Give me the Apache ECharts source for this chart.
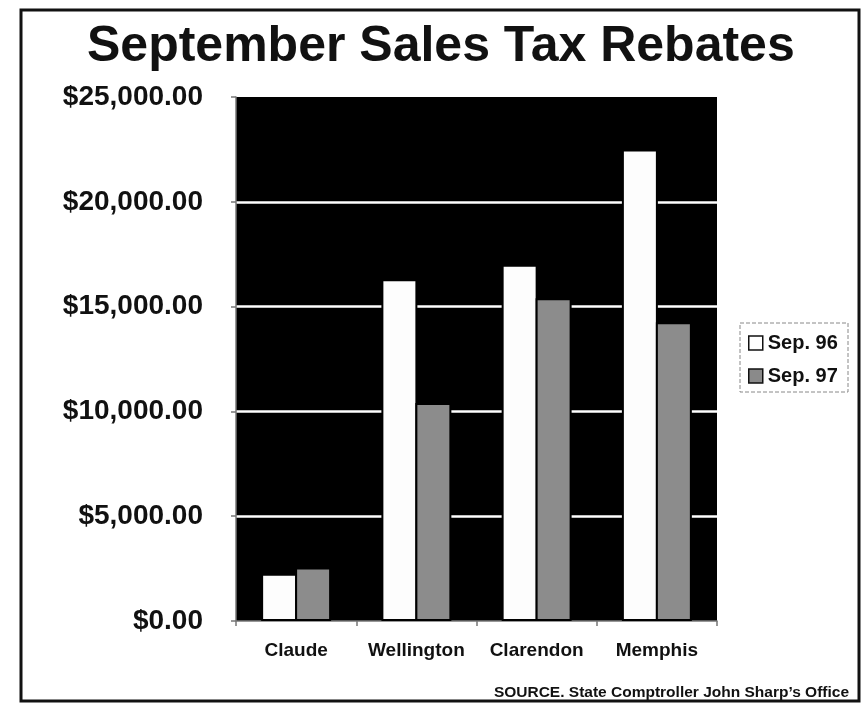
<!DOCTYPE html>
<html>
<head>
<meta charset="utf-8">
<script src="https://cdn.jsdelivr.net/npm/echarts@6/dist/echarts.min.js"></script>
<style>
html,body{margin:0;padding:0;background:#fff;}
#main{width:861px;height:704px;}
</style>
</head>
<body>
<div id="main"></div>
<script>
var categories = ['Claude', 'Wellington', 'Clarendon', 'Memphis'];
var sep96 = [2250, 16300, 17000, 22500];
var sep97 = [2550, 10400, 15400, 14250];
var seriesNames = ['Sep. 96', 'Sep. 97'];
var titleText = 'September Sales Tax Rebates';
var sourceText = 'SOURCE. State Comptroller John Sharp\u2019s Office';

var chart = echarts.init(document.getElementById('main'));
var font = '"Liberation Sans", Arial, sans-serif';
function money(v) {
  return '$' + Number(v).toLocaleString('en-US', {minimumFractionDigits: 2, maximumFractionDigits: 2});
}
chart.setOption({
  backgroundColor: '#ffffff',
  animation: false,
  title: [
    {
      text: titleText,
      left: 87,
      top: 22,
      padding: 0,
      textStyle: {fontFamily: font, fontSize: 50, fontWeight: 'bold', color: '#111'}
    },
    {
      text: sourceText,
      right: 12,
      bottom: 3,
      padding: 0,
      textStyle: {fontFamily: font, fontSize: 15.5, fontWeight: 'bold', color: '#111'}
    }
  ],
  legend: {
    orient: 'vertical',
    left: 748,
    top: 333,
    padding: 0,
    itemWidth: 14,
    itemHeight: 14,
    itemGap: 13,
    icon: 'rect',
    textStyle: {fontFamily: font, fontSize: 20, color: '#111', fontWeight: 'bold'},
    data: [
      {name: seriesNames[0], itemStyle: {color: '#ffffff', borderColor: '#111', borderWidth: 1.5}},
      {name: seriesNames[1], itemStyle: {color: '#8a8a8a', borderColor: '#111', borderWidth: 1.5}}
    ]
  },
  grid: {
    left: 236,
    right: 144,
    top: 97,
    bottom: 83,
    show: true,
    backgroundColor: '#000000',
    borderWidth: 0
  },
  xAxis: {
    type: 'category',
    data: categories,
    axisLine: {show: true, lineStyle: {color: '#777', width: 1.5}},
    axisTick: {show: true, inside: false, length: 5, lineStyle: {color: '#777', width: 1.5}},
    axisLabel: {interval: 0, fontFamily: font, fontSize: 19, fontWeight: 'bold', color: '#111', margin: 20}
  },
  yAxis: {
    type: 'value',
    min: 0,
    max: 25000,
    interval: 5000,
    axisLine: {show: true, lineStyle: {color: '#777', width: 1.5}},
    axisTick: {show: true, length: 5, lineStyle: {color: '#777', width: 1.5}},
    axisLabel: {
      fontFamily: font, fontSize: 28, fontWeight: 'bold', color: '#111', margin: 33,
      padding: [0, 0, 8, 0],
      formatter: money
    },
    splitLine: {show: true, showMinLine: false, showMaxLine: false, lineStyle: {color: '#ffffff', width: 2.5}}
  },
  series: [
    {
      name: seriesNames[0],
      type: 'bar',
      data: sep96,
      barWidth: 36,
      barGap: '-5.6%',
      itemStyle: {color: '#fdfdfd', borderColor: '#000', borderWidth: 2}
    },
    {
      name: seriesNames[1],
      type: 'bar',
      data: sep97,
      barWidth: 36,
      barGap: '-5.6%',
      itemStyle: {color: '#8c8c8c', borderColor: '#000', borderWidth: 2}
    }
  ],
  graphic: [
    {
      type: 'rect',
      silent: true,
      shape: {x: 21, y: 10, width: 838, height: 691},
      style: {fill: 'none', stroke: '#111', lineWidth: 3}
    },
    {
      type: 'rect',
      silent: true,
      shape: {x: 740, y: 323, width: 108, height: 69},
      style: {fill: 'none', stroke: '#888', lineWidth: 1, lineDash: [4, 2]}
    }
  ]
});
</script>
</body>
</html>
